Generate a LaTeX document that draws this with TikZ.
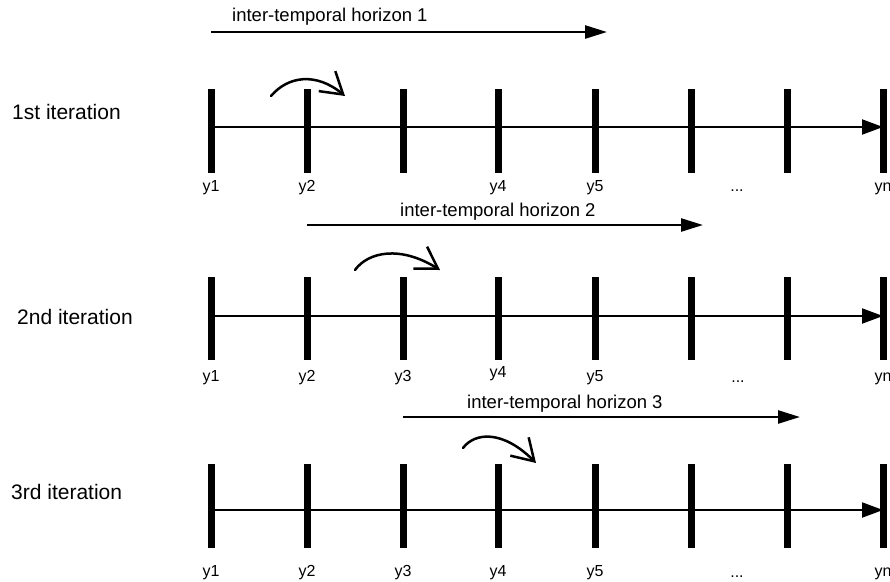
\documentclass[tikz,border=0pt]{standalone}
\usepackage{fontspec}
\setmainfont{Liberation Sans}
\usetikzlibrary{arrows.meta}

\tikzset{
  tick/.style={line width=7pt},
  axis/.style={line width=2pt,-{Triangle[length=21pt,width=15pt]}},
  horizon/.style={line width=2.5pt,-{Triangle[length=22pt,width=13pt]}},
  hop/.style={line width=2.5pt,line cap=round,-{Straight Barb[length=21pt,width=26pt]}},
  ylab/.style={anchor=base,inner sep=0pt,font=\fontsize{16}{18}\selectfont},
  itlab/.style={anchor=west,inner sep=0pt,font=\fontsize{21}{25}\selectfont},
  hzlab/.style={anchor=west,inner sep=0pt,font=\fontsize{18.5}{22}\selectfont}
}

\begin{document}
\begin{tikzpicture}[x=1pt,y=-1pt]
\useasboundingbox (0,0) rectangle (890,581);

\foreach \row/\ya/\yt/\yb in {1/127/89/173,2/316/277/360,3/510/464/548} {
\foreach \x [count=\i] in {211,307,403,498,595,691,787,883} {
\coordinate (c\row-\i) at (\x,\ya);
\draw[tick] (\x,\yt) -- (\x,\yb);
}
\draw[axis] (c\row-1) -- (c\row-8);
}

\node (it1) at (12,112) [itlab] {1st iteration};
\node (it2) at (17,317) [itlab] {2nd iteration};
\node (it3) at (11,492) [itlab] {3rd iteration};

\foreach \i/\n in {1/y1,2/y2,4/y4,5/y5,8/yn} {
\node (l1-\i) at (c1-\i) [ylab,yshift=-64pt] {\n};
}
\node (l1-d) at (737,191) [ylab] {...};
\foreach \i/\n in {1/y1,2/y2,3/y3,5/y5,8/yn} {
\node (l2-\i) at (c2-\i) [ylab,yshift=-65pt] {\n};
}
\node (l2-4) at (c2-4) [ylab,yshift=-61pt] {y4};
\node (l2-d) at (738,382) [ylab] {...};
\foreach \i/\n in {1/y1,2/y2,3/y3,4/y4,5/y5,8/yn} {
\node (l3-\i) at (c3-\i) [ylab,yshift=-66pt] {\n};
}
\node (l3-d) at (737,577) [ylab] {...};

\coordinate (h1) at (211,32);
\coordinate (h1e) at (607,32);
\coordinate (h2) at (307,225);
\coordinate (h2e) at (703,225);
\coordinate (h3) at (403,417);
\coordinate (h3e) at (800,417);
\draw[horizon] (h1) -- (h1e);
\draw[horizon] (h2) -- (h2e);
\draw[horizon] (h3) -- (h3e);
\node (hz1) at (232,17) [hzlab] {inter-temporal horizon 1};
\node (hz2) at (400,212) [hzlab] {inter-temporal horizon 2};
\node (hz3) at (467,404) [hzlab] {inter-temporal horizon 3};

\coordinate (p1) at (271,96);
\coordinate (q1) at (345,96);
\coordinate (p2) at (355,270);
\coordinate (q2) at (440,270);
\coordinate (p3) at (463,448);
\coordinate (q3) at (536,463);
\draw[hop] (p1) .. controls (288,76) and (316,72) .. (q1);
\draw[hop] (p2) .. controls (368,252) and (400,245) .. (q2);
\draw[hop] (p3) .. controls (475,432) and (503,430) .. (q3);
\end{tikzpicture}
\end{document}
